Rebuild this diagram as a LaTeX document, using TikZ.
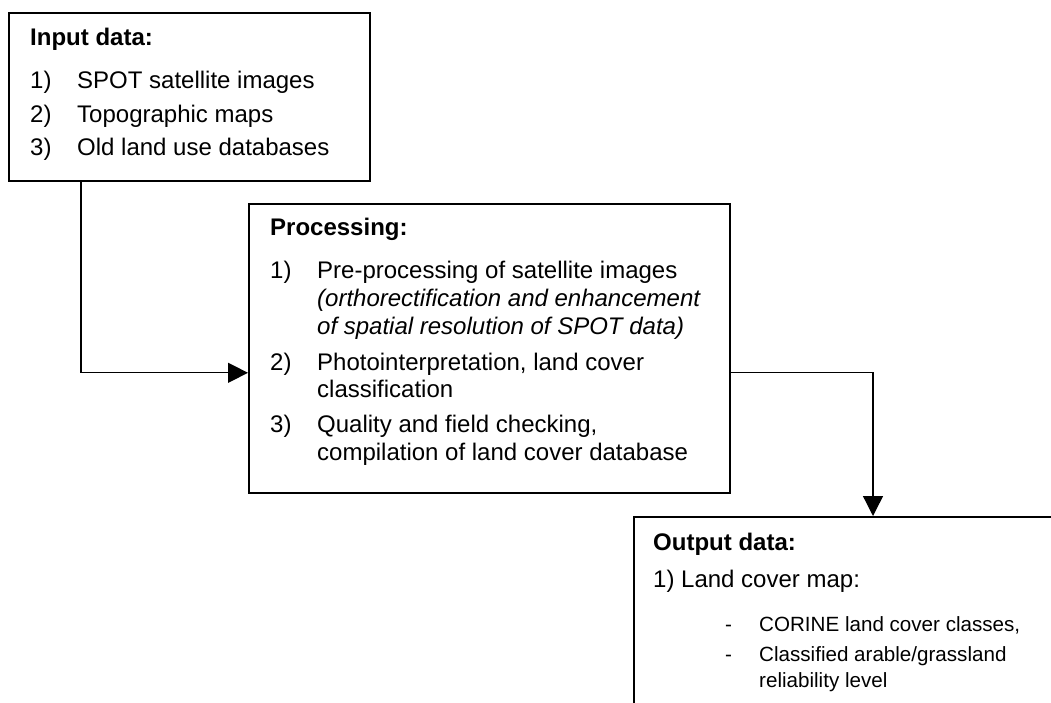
\documentclass[tikz,border=0pt]{standalone}
\usepackage{fontspec}
\setmainfont{Liberation Sans}
\usetikzlibrary{arrows.meta}

\tikzset{
  box/.style={draw=black, line width=1.6pt, rectangle, inner sep=0pt, anchor=north west},
  conn/.style={draw=black, line width=1.3pt, -{Triangle[width=20pt,length=20pt]}},
  txt/.style={anchor=base west, inner sep=0pt, font=\fontsize{24}{28}\selectfont},
  small/.style={anchor=base west, inner sep=0pt, font=\fontsize{20.6}{26}\selectfont},
  head/.style={txt, font=\fontsize{24}{28}\selectfont\bfseries},
  note/.style={txt, font=\fontsize{24}{28}\selectfont\itshape}
}

\begin{document}
\begin{tikzpicture}[x=1pt, y=-1pt]
  \clip (0,0) rectangle (1051,702);
  \fill[white] (0,0) rectangle (1051,702);

  % boxes
  \node[box, minimum width=361pt, minimum height=168pt] (inbox) at (8,12) {};
  \node[box, minimum width=481pt, minimum height=289pt] (procbox) at (248,203) {};
  \node[box, minimum width=440pt, minimum height=220pt] (outbox) at (633,516) {};

  % input data
  \node[head] (inT) at (30,45) {Input data:};
  \node[txt] (inN1) at (30,88) {1)};
  \node[txt] (inL1) at (77,88) {SPOT satellite images};
  \node[txt] (inN2) at (30,122) {2)};
  \node[txt] (inL2) at (77,122) {Topographic maps};
  \node[txt] (inN3) at (30,155) {3)};
  \node[txt] (inL3) at (77,155) {Old land use databases};

  % processing
  \node[head] (prT) at (270,235) {Processing:};
  \node[txt] (prN1) at (270,278) {1)};
  \node[txt] (prL1) at (317,278) {Pre-processing of satellite images};
  \node[note] (prL1b) at (317,306) {(orthorectification and enhancement};
  \node[note] (prL1c) at (317,334) {of spatial resolution of SPOT data)};
  \node[txt] (prN2) at (270,370) {2)};
  \node[txt] (prL2) at (317,370) {Photointerpretation, land cover};
  \node[txt] (prL2b) at (317,397) {classification};
  \node[txt] (prN3) at (270,432) {3)};
  \node[txt] (prL3) at (317,432) {Quality and field checking,};
  \node[txt] (prL3b) at (317,460) {compilation of land cover database};

  % output data
  \node[head] (outT) at (653,550) {Output data:};
  \node[txt] (outL1) at (653,587) {1) Land cover map:};
  \node[small] (outD1) at (725,631) {-};
  \node[small] (outL2) at (759,631) {CORINE land cover classes,};
  \node[small] (outD2) at (725,661) {-};
  \node[small] (outL3) at (759,661) {Classified arable/grassland};
  \node[small] (outL3b) at (759,687) {reliability level};

  % connectors
  \draw[conn] ([xshift=73pt]inbox.south west) |- ([yshift=-24.5pt]procbox.west);
  \draw[conn] ([yshift=-24.5pt]procbox.east) -| ([xshift=240pt]outbox.north west);
\end{tikzpicture}
\end{document}
